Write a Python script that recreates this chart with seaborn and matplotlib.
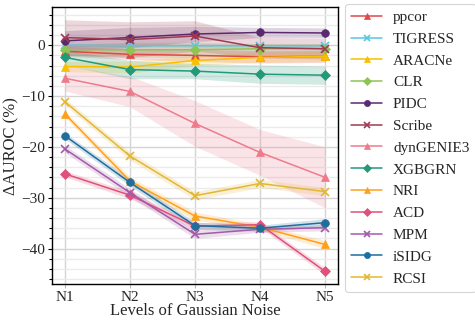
import numpy as np
import pandas as pd
import seaborn as sns
import matplotlib
matplotlib.use("Agg")
import matplotlib.pyplot as plt
from matplotlib.ticker import MultipleLocator

# Niveles de ruido en el eje x
niveles = ["N1", "N2", "N3", "N4", "N5"]

# Orden de los métodos en la leyenda
metodos = ["ppcor", "TIGRESS", "ARACNe", "CLR", "PIDC", "Scribe", "dynGENIE3",
           "XGBGRN", "NRI", "ACD", "MPM", "iSIDG", "RCSI"]

# Valores medios (ΔAUROC %)
ppcor = [-1.2, -1.8, -2.0, -2.3, -2.2]
tigress = [0.0, -0.1, -0.1, -0.1, -0.1]
aracne = [-4.2, -4.3, -3.0, -2.4, -2.2]
clr = [-0.9, -0.9, -0.9, -0.7, -0.7]
pidc = [0.85, 1.5, 2.2, 2.5, 2.4]
scribe = [1.5, 1.1, 1.8, -0.5, -0.7]
dyngenie3 = [-6.5, -9.1, -15.4, -21.1, -26.0]
xgbgrn = [-2.4, -4.8, -5.1, -5.7, -5.9]
nri = [-13.5, -26.7, -33.6, -35.8, -39.2]
acd = [-25.3, -29.5, -35.6, -35.3, -44.5]
mpm = [-20.4, -29.0, -37.2, -36.2, -35.9]
isidg = [-17.8, -27.0, -35.5, -36.0, -34.9]
rcsi = [-11.1, -21.8, -29.6, -27.2, -28.8]

# Semiancho de la banda sombreada de cada método
ppcor_ci = [1.0, 1.0, 1.2, 1.2, 1.2]
tigress_ci = [0.3, 0.3, 0.3, 0.3, 0.3]
aracne_ci = [1.0, 1.2, 1.0, 1.0, 1.0]
clr_ci = [1.0, 1.5, 1.5, 1.0, 1.0]
pidc_ci = [2.0, 2.0, 1.5, 1.0, 1.0]
scribe_ci = [3.5, 3.5, 3.0, 2.0, 2.0]
dyngenie3_ci = [2.5, 3.0, 4.5, 4.5, 6.0]
xgbgrn_ci = [1.5, 1.8, 1.5, 1.8, 1.8]
nri_ci = [0.6, 0.8, 0.8, 0.6, 0.8]
acd_ci = [0.6, 0.7, 0.7, 0.6, 0.7]
mpm_ci = [0.7, 0.8, 0.8, 0.6, 0.6]
isidg_ci = [0.6, 0.7, 0.7, 0.6, 0.8]
rcsi_ci = [0.7, 0.8, 0.8, 0.8, 0.8]

colores = ["#e04848", "#56c8e0", "#f7c000", "#8dc453", "#5b2a6e", "#a03a50",
           "#ee7b8c", "#229a78", "#ffa01a", "#e0507a", "#a35aa8", "#1f6e9c",
           "#e3b734"]
marcadores = ["^", "x", "^", "D", "o", "x", "^", "D", "^", "D", "x", "o", "x"]

medias = [ppcor, tigress, aracne, clr, pidc, scribe, dyngenie3, xgbgrn, nri,
          acd, mpm, isidg, rcsi]
bandas = [ppcor_ci, tigress_ci, aracne_ci, clr_ci, pidc_ci, scribe_ci,
          dyngenie3_ci, xgbgrn_ci, nri_ci, acd_ci, mpm_ci, isidg_ci, rcsi_ci]

filas = []
for m, vals, cis in zip(metodos, medias, bandas):
    for i, (v, c) in enumerate(zip(vals, cis)):
        filas.append({"metodo": m, "nivel": i, "valor": v,
                      "bajo": v - c, "alto": v + c})
datos = pd.DataFrame(filas)

sns.set_theme(style="whitegrid")
plt.rcParams["font.family"] = ["Liberation Serif", "DejaVu Serif"]

fig = plt.figure(figsize=(4.75, 3.2), dpi=100)
ax = fig.add_axes([0.109, 0.112, 0.603, 0.866])

paleta = dict(zip(metodos, colores))
# Bandas primero para que queden detrás de las líneas
for m in metodos:
    d = datos[datos["metodo"] == m]
    ax.fill_between(d["nivel"], d["bajo"], d["alto"], color=paleta[m],
                    alpha=0.2, linewidth=0)

# seaborn no deja mezclar marcadores rellenos y de línea, así que una línea por método
for m, mk in zip(metodos, marcadores):
    d = datos[datos["metodo"] == m]
    sns.lineplot(d, x="nivel", y="valor", color=paleta[m], marker=mk,
                 markersize=5.5, markeredgecolor=paleta[m],
                 markeredgewidth=1.2 if mk == "x" else 0.5,
                 linewidth=1.1, label=m, ax=ax)

ax.set_xticks(range(len(niveles)))
ax.set_xticklabels(niveles)
ax.set_ylim(-47, 7.5)
ax.yaxis.set_major_locator(MultipleLocator(10))
ax.yaxis.set_minor_locator(MultipleLocator(2))
ax.grid(which="major", color="#d4d4d4", linewidth=1.0)
ax.grid(which="minor", axis="y", color="#ebebeb", linewidth=1.0)
ax.tick_params(axis="y", which="both", left=True, direction="out",
               length=3, width=0.8, color="black", labelsize=11, pad=2)
ax.tick_params(axis="y", which="minor", length=2)
ax.tick_params(axis="x", bottom=True, direction="out", length=3, width=0.8,
               color="#bbbbbb", labelsize=11, pad=2)
for s in ax.spines.values():
    s.set_color("black")
    s.set_linewidth(1.0)

ax.set_xlabel("Levels of Gaussian Noise", fontsize=12, labelpad=-1)
ax.set_ylabel("ΔAUROC (%)", fontsize=12, labelpad=1)

leg = ax.legend(loc="upper left", bbox_to_anchor=(1.025, 1.01),
                borderaxespad=0, fontsize=11, frameon=True,
                labelspacing=0.53, handlelength=2.0, handletextpad=0.72,
                borderpad=0.4, markerscale=0.8)
leg.get_frame().set_edgecolor("#cccccc")
leg.get_frame().set_linewidth(0.8)

fig.savefig("out.png", dpi=100)
